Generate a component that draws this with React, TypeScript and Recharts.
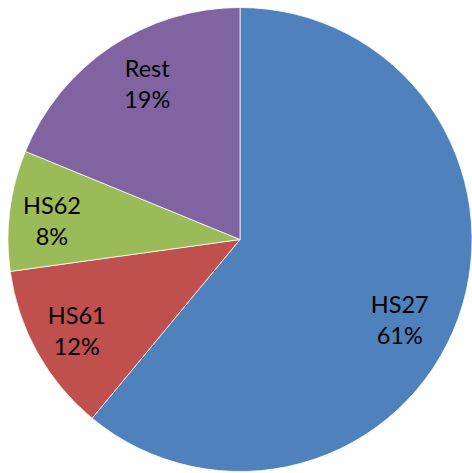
import React from 'react';
import { PieChart, Pie, Cell } from 'recharts';

document.body.style.margin = '0';

const categories = ['HS27', 'HS61', 'HS62', 'Rest'];
const shares = [61.0, 11.8, 8.4, 18.8];
const colors = ['#4F81BD', '#C0504D', '#9BBB59', '#8064A2'];

// label placement tweaks (Excel best-fit puts them a little off the mid angle)
const labelAngleNudge = [-7, 0, 1.5, -3];
const labelRadius = [179, 187, 189, 181];

const data = categories.map((name, i) => ({ name, value: shares[i] }));

const RADIAN = Math.PI / 180;

const renderLabel = (props: any) => {
  const { cx, cy, midAngle, percent, index, name } = props;
  const a = (midAngle + labelAngleNudge[index]) * RADIAN;
  const r = labelRadius[index];
  const x = cx + r * Math.cos(-a);
  const y = cy + r * Math.sin(-a);
  return (
    <text
      x={x}
      y={y}
      textAnchor="middle"
      fill="#000"
      fontFamily="Lato, 'Open Sans', sans-serif"
      fontSize={23.5}
    >
      <tspan x={x} dy={-7}>{name}</tspan>
      <tspan x={x} dy={31}>{`${Math.round(percent * 100)}%`}</tspan>
    </text>
  );
};

export default function App() {
  return (
    <div style={{ width: 472, height: 473, background: '#fff' }}>
      <PieChart width={472} height={473} margin={{ top: 0, right: 0, bottom: 0, left: 0 }}>
        <Pie
          data={data}
          dataKey="value"
          nameKey="name"
          cx={240}
          cy={239.5}
          outerRadius={232}
          startAngle={90}
          endAngle={-270}
          stroke="#ffffff"
          strokeWidth={0.75}
          label={renderLabel}
          labelLine={false}
          isAnimationActive={false}
        >
          {data.map((d, i) => (
            <Cell key={d.name} fill={colors[i]} />
          ))}
        </Pie>
      </PieChart>
    </div>
  );
}
